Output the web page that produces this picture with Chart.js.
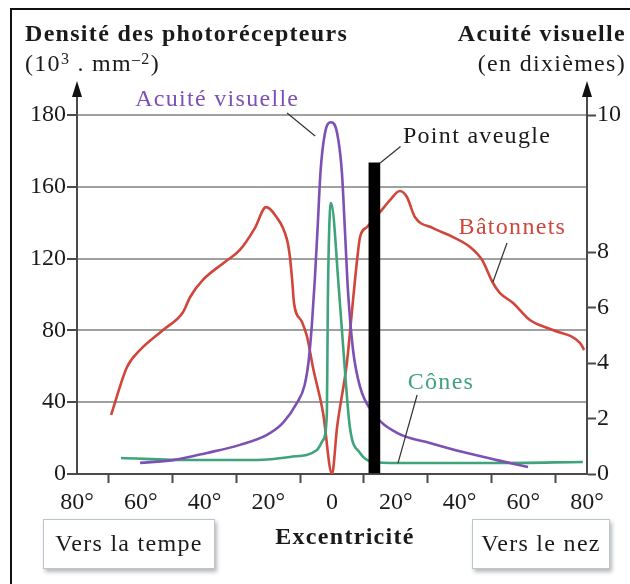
<!DOCTYPE html>
<html>
<head>
<meta charset="utf-8">
<script src="https://cdn.jsdelivr.net/npm/chart.js@4/dist/chart.umd.min.js"></script>
<style>
  html, body { margin: 0; padding: 0; background: #fff; }
  #wrap { position: relative; width: 630px; height: 584px; overflow: hidden;
          font-family: "Liberation Serif", "DejaVu Serif", serif; color: #1a1a1a; }
  #frame { position: absolute; left: 10px; top: 8px; width: 700px; height: 700px;
           border: 2px solid #111; box-sizing: border-box; }
  #chart { position: absolute; left: 0; top: 0; }
  .t { position: absolute; white-space: nowrap; font-size: 24px; line-height: 1; letter-spacing: 1.3px; }
  .b { font-weight: bold; }
  .box { position: absolute; border: 1.5px solid #b9c5cf; background: #fff;
         box-shadow: 2px 3px 4px rgba(0,0,0,0.28); font-size: 24px; line-height: 47px;
         letter-spacing: 1.3px; text-align: center; box-sizing: border-box; }
  sup { font-size: 16px; vertical-align: 7px; line-height: 0; }
</style>
</head>
<body>
<div id="wrap">
  <div id="frame"></div>
  <canvas id="chart" width="630" height="584"></canvas>
  <div class="t b" style="left:25px; top:21px;">Densité des photorécepteurs</div>
  <div class="t" style="left:25px; top:51px;">(10<sup>3</sup> . mm<sup>–2</sup>)</div>
  <div class="t b" style="right:4px; top:21px;">Acuité visuelle</div>
  <div class="t" style="right:4px; top:51px;">(en dixièmes)</div>
  <div class="t b" style="left:345px; top:524px; transform:translateX(-50%);">Excentricité</div>
  <div class="box" style="left:43px; top:519px; width:172px; height:50px;">Vers la tempe</div>
  <div class="box" style="left:472px; top:519px; width:138px; height:50px;">Vers le nez</div>
</div>
<script>
/* ---------------- data ---------------- */
// x: excentricité en degrés (négatif = côté tempe, positif = côté nez)
const xTickValues = [-80, -60, -40, -20, 0, 20, 40, 60, 80];
const xTickLabels = ["80°", "60°", "40°", "20°", "0", "20°", "40°", "60°", "80°"];
// left axis: densité (10^3 / mm²) — the top grid line is labelled 180 in the figure
const leftTickValues = [0, 40, 80, 120, 160, 200];
const leftTickLabels = ["0", "40", "80", "120", "160", "180"];
// right axis: acuité (dixièmes) — the "10" tick sits at the top of the plot
const rightTickValues = [0, 2, 4, 6, 8, 12.94];
const rightTickLabels = ["0", "2", "4", "6", "8", "10"];

const batonnetsX = [-69.3, -64.3, -60.2, -53.0, -46.7, -44.5, -40.5, -33.6, -28.9, -24.2, -20.7, -17.9,
  -14.1, -13.2, -12.5, -11.9, -9.5, -7.8, -6.0, -2.8, 0, 1.6, 4.7, 6.6, 7.8, 8.8, 11.0, 15.1, 18.2, 21.3,
  23.5, 26.0, 31.7, 38.0, 43.3, 47.1, 50.5, 52.7, 56.8, 62.1, 69.3, 77.8, 79.1];
const batonnetsY = [32.9, 59.6, 69.1, 80.2, 90.3, 98.6, 108.1, 118.1, 124.8, 137.0, 148.7, 144.3,
  130.4, 120.9, 108.1, 95.0, 85.0, 76.3, 59.6, 34.0, 0, 26.2, 62.4, 96.9, 118.1, 132.0, 137.6, 146.0, 152.6, 157.7,
  154.3, 143.2, 137.0, 132.0, 126.5, 119.2, 106.4, 100.8, 95.3, 85.8, 80.2, 73.0, 69.1];

const conesX = [-66.2, -44.5, -23.5, -13.2, -4.7, -2.8, -1.6, -1.3, -0.3, 2.2, 3.5, 5.6, 8.8, 12.9, 20.4, 51.8, 78.7];
const conesY = [8.9, 7.8, 7.8, 9.5, 13.4, 18.9, 34.0, 96.9, 151.0, 102.0, 70.8, 26.2, 11.7, 6.7, 6.1, 6.1, 6.7];

const acuiteX = [-60.2, -49.9, -39.2, -28.9, -20.4, -15.4, -11.0, -8.6, -7.3, -6.3, -5.4, -4.5, -3.6, -2.2, -0.3,
  1.6, 3.1, 4.1, 5.0, 6.6, 8.8, 12.9, 20.4, 30.7, 41.1, 51.8, 61.5];
const acuiteY = [0.40, 0.50, 0.76, 1.05, 1.41, 1.84, 2.56, 3.20, 4.10, 5.40, 7.00, 8.90, 10.90, 12.29, 12.68,
  12.29, 10.88, 8.68, 6.63, 4.47, 3.14, 2.20, 1.48, 1.12, 0.79, 0.50, 0.25];

const pointAveugleX = [13.3];
const pointAveugleY = [173.3];

const RED = "#d0463b", GREEN = "#3fa37c", PURPLE = "#7d50b4", AXIS = "#4a4a4a", GRID = "#a0a0a0";
const FONT = "'Liberation Serif', 'DejaVu Serif', serif";

// labels + leader lines, anchored in data space (x deg, y left axis)
const notes = [
  { text: "Acuité visuelle", color: PURPLE, x: -36.0, y: 208.4, from: [-14.1, 201.1], to: [-5.3, 188.3] },
  { text: "Point aveugle", color: "#1a1a1a", x: 45.5, y: 187.7, from: [15.1, 173.3], to: [21.5, 182.5] },
  { text: "Bâtonnets", color: RED, x: 56.6, y: 137.0, from: [54.9, 128.7], to: [50.5, 107.0] },
  { text: "Cônes", color: GREEN, x: 34.2, y: 50.7, from: [26.7, 44.0], to: [20.7, 6.1] },
];

const zip = (xs, ys) => xs.map((x, i) => ({ x, y: ys[i] }));

/* ---------------- decorations: axis arrows + annotations ---------------- */
const decor = {
  id: "decor",
  afterDatasetsDraw(chart) {
    const c = chart.ctx, a = chart.chartArea, sx = chart.scales.x, sy = chart.scales.y;
    c.save();
    // leader lines
    c.strokeStyle = "#333"; c.lineWidth = 1.2;
    for (const n of notes) {
      c.beginPath();
      c.moveTo(sx.getPixelForValue(n.from[0]), sy.getPixelForValue(n.from[1]));
      c.lineTo(sx.getPixelForValue(n.to[0]), sy.getPixelForValue(n.to[1]));
      c.stroke();
    }
    c.font = `24px ${FONT}`; c.textAlign = "center"; c.textBaseline = "middle";
    if ("letterSpacing" in c) c.letterSpacing = "1.3px";
    for (const n of notes) {
      c.fillStyle = n.color;
      c.fillText(n.text, sx.getPixelForValue(n.x), sy.getPixelForValue(n.y));
    }
    if ("letterSpacing" in c) c.letterSpacing = "0px";
    // axis extensions with arrowheads
    c.strokeStyle = AXIS; c.lineWidth = 2; c.fillStyle = "#111";
    for (const x of [a.left, a.right]) {
      c.beginPath(); c.moveTo(x, a.top); c.lineTo(x, 96); c.stroke();
      c.beginPath(); c.moveTo(x, 81); c.lineTo(x - 5, 97); c.lineTo(x + 5, 97); c.closePath(); c.fill();
    }
    c.restore();
  },
};

const tickFont = { family: FONT, size: 24 };

new Chart(document.getElementById("chart"), {
  type: "line",
  data: {
    datasets: [
      { type: "bar", data: zip(pointAveugleX, pointAveugleY), backgroundColor: "#000",
        barThickness: 11, yAxisID: "y" },
      { data: zip(acuiteX, acuiteY), borderColor: PURPLE, yAxisID: "y2" },
      { data: zip(conesX, conesY), borderColor: GREEN, yAxisID: "y" },
      { data: zip(batonnetsX, batonnetsY), borderColor: RED, yAxisID: "y" },
    ],
  },
  options: {
    responsive: false, animation: false,
    layout: { padding: { top: 115, left: 0, right: 0, bottom: 0 } },
    elements: {
      point: { radius: 0 },
      line: { borderWidth: 2.6, cubicInterpolationMode: "monotone", fill: false },
    },
    plugins: { legend: { display: false }, tooltip: { enabled: false } },
    scales: {
      x: {
        type: "linear", min: -80, max: 80, offset: false,
        afterBuildTicks: (s) => { s.ticks = xTickValues.map((v) => ({ value: v })); },
        afterFit: (s) => { s.height = 110; },
        ticks: { font: tickFont, color: "#1a1a1a", padding: 5, maxRotation: 0,
                 callback: (v) => xTickLabels[xTickValues.indexOf(v)] },
        grid: { drawOnChartArea: false, drawTicks: true, tickLength: 9, tickColor: AXIS, tickWidth: 2 },
        border: { color: AXIS, width: 2 },
      },
      y: {
        position: "left", min: 0, max: 200,
        afterBuildTicks: (s) => { s.ticks = leftTickValues.map((v) => ({ value: v })); },
        afterFit: (s) => { s.width = 77; },
        ticks: { font: tickFont, color: "#1a1a1a", padding: 1,
                 callback: (v) => leftTickLabels[leftTickValues.indexOf(v)] },
        grid: { color: GRID, lineWidth: 2, tickLength: 10, tickColor: AXIS, tickWidth: 2 },
        border: { color: AXIS, width: 2 },
      },
      y2: {
        position: "right", min: 0, max: 12.94,
        afterBuildTicks: (s) => { s.ticks = rightTickValues.map((v) => ({ value: v })); },
        afterFit: (s) => { s.width = 43; },
        ticks: { font: tickFont, color: "#1a1a1a", padding: 1,
                 callback: (v) => rightTickLabels[rightTickValues.indexOf(v)] },
        grid: { drawOnChartArea: false, tickLength: 9, tickColor: AXIS, tickWidth: 2 },
        border: { color: AXIS, width: 2 },
      },
    },
  },
  plugins: [decor],
});
</script>
</body>
</html>
